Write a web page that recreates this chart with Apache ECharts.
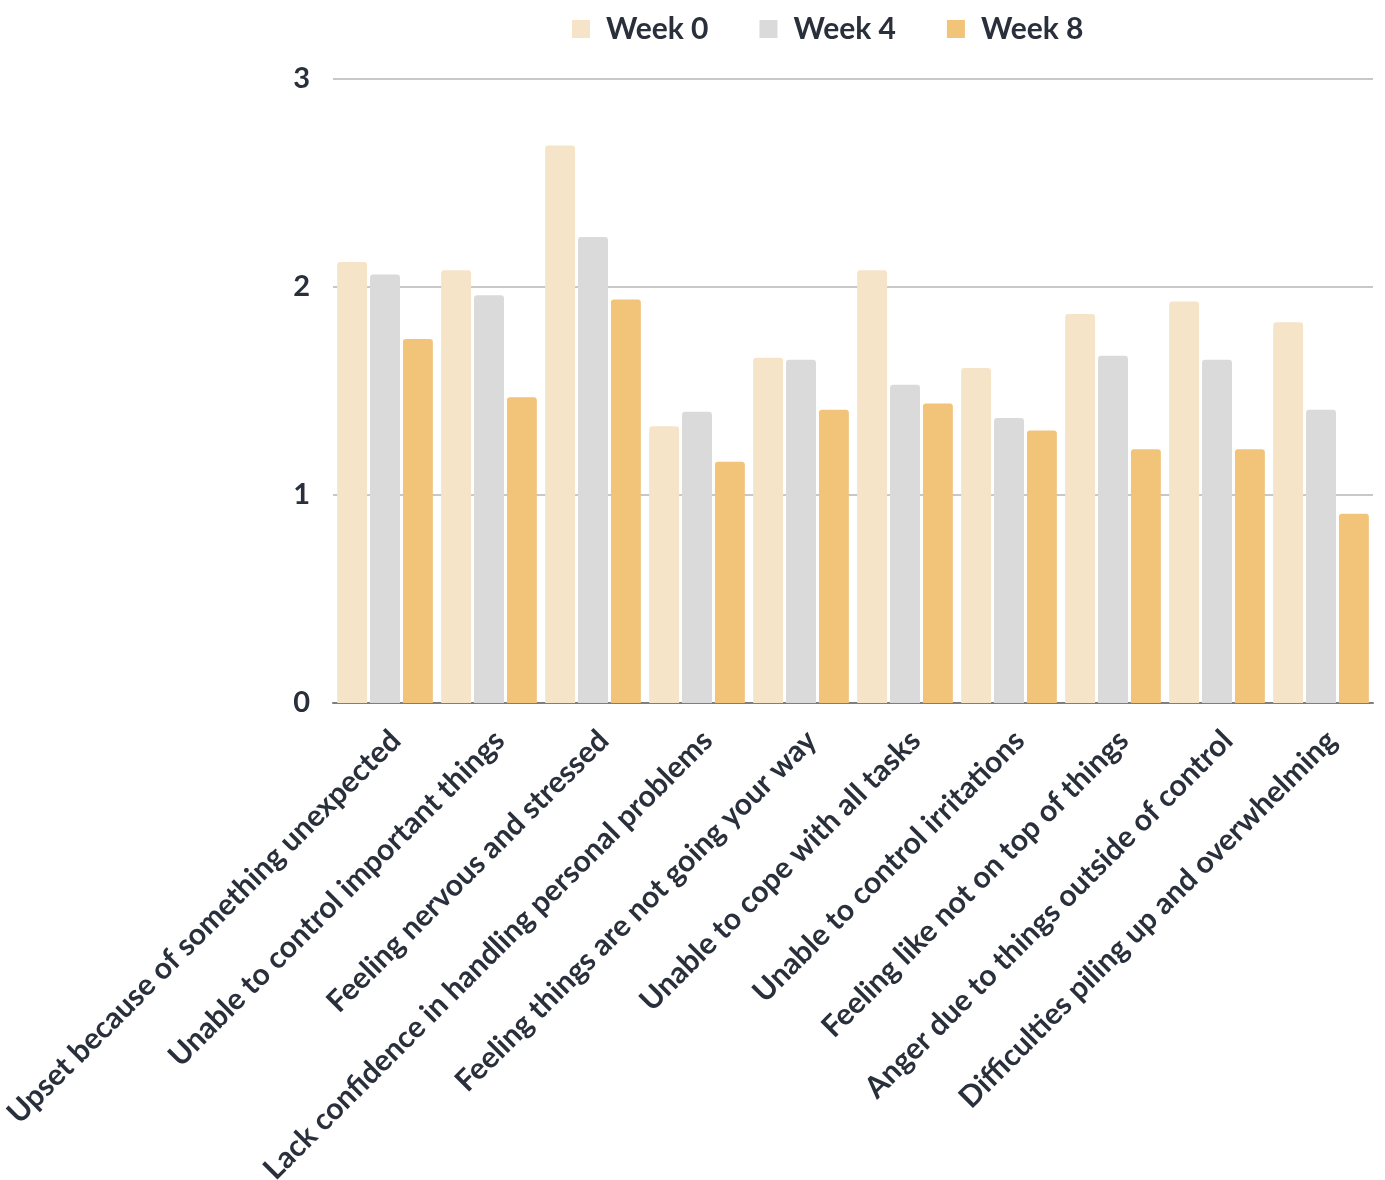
<!DOCTYPE html>
<html>
<head>
<meta charset="utf-8">
<script src="https://cdn.jsdelivr.net/npm/echarts@6/dist/echarts.min.js"></script>
<style>
  html, body { margin: 0; padding: 0; background: #fff; }
  #chart { width: 1385px; height: 1180px; }
</style>
</head>
<body>
<div id="chart"></div>
<script>
// categories (perceived stress items)
const categories = [
  'Upset because of something unexpected',
  'Unable to control important things',
  'Feeling nervous and stressed',
  'Lack confidence in handling personal problems',
  'Feeling things are not going your way',
  'Unable to cope with all tasks',
  'Unable to control irritations',
  'Feeling like not on top of things',
  'Anger due to things outside of control',
  'Difficulties piling up and overwhelming'
];

const seriesNames = ['Week 0', 'Week 4', 'Week 8'];

// mean scores
const week0 = [2.12, 2.08, 2.68, 1.33, 1.66, 2.08, 1.61, 1.87, 1.93, 1.83];
const week4 = [2.06, 1.96, 2.24, 1.40, 1.65, 1.53, 1.37, 1.67, 1.65, 1.41];
const week8 = [1.75, 1.47, 1.94, 1.16, 1.41, 1.44, 1.31, 1.22, 1.22, 0.91];

const colors = ['#f6e4c9', '#dadada', '#f1c47a'];
const textColor = '#29303b';
const fontFamily = 'Lato, "Noto Sans", sans-serif';

const chart = echarts.init(document.getElementById('chart'));

const makeSeries = (name, data, color) => ({
  name,
  type: 'bar',
  data,
  barGap: '10%',
  barCategoryGap: '8%',
  itemStyle: { color, borderRadius: [3, 3, 0, 0] }
});

chart.setOption({
  animation: false,
  textStyle: { fontFamily },
  legend: {
    left: 567,
    top: 9,
    itemWidth: 18,
    itemHeight: 18,
    itemGap: 51,
    icon: 'rect',
    textStyle: {
      fontSize: 30,
      fontWeight: 'bold',
      color: textColor,
      fontFamily,
      padding: [0, 0, 0, 11]
    },
    data: seriesNames
  },
  grid: {
    left: 333,
    right: 12,
    top: 79,
    bottom: 477,
    outerBoundsMode: 'none',
    containLabel: false
  },
  xAxis: {
    type: 'category',
    data: categories,
    axisTick: { show: false },
    axisLine: { lineStyle: { color: '#7d7d84', width: 2 } },
    axisLabel: {
      rotate: 45,
      interval: 0,
      margin: 22,
      verticalAlign: 'top',
      fontSize: 30,
      fontWeight: 'bold',
      color: textColor,
      fontFamily
    }
  },
  yAxis: {
    type: 'value',
    min: 0,
    max: 3,
    interval: 1,
    axisLine: { show: false },
    axisTick: { show: false },
    splitLine: { lineStyle: { color: '#c8c7cc', width: 2 } },
    axisLabel: {
      margin: 23,
      fontSize: 29,
      fontWeight: 'bold',
      color: textColor,
      fontFamily
    }
  },
  series: [
    makeSeries(seriesNames[0], week0, colors[0]),
    makeSeries(seriesNames[1], week4, colors[1]),
    makeSeries(seriesNames[2], week8, colors[2])
  ]
});
</script>
</body>
</html>
